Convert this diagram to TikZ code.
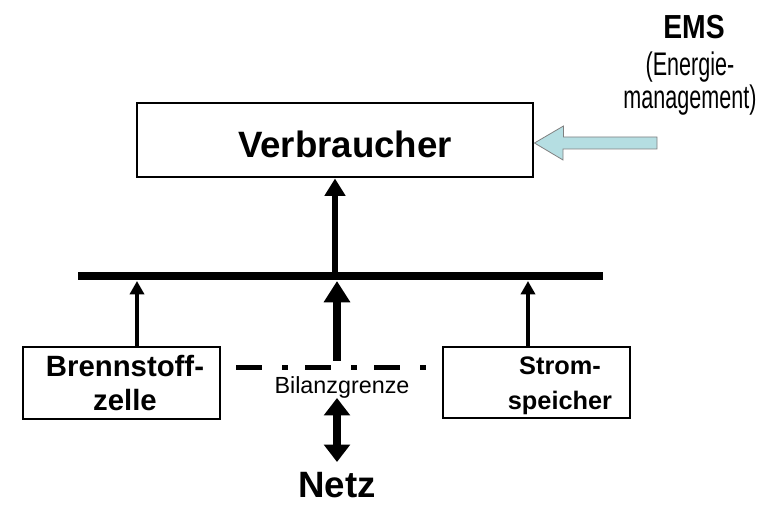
\documentclass[tikz,border=0pt]{standalone}
\usepackage{fontspec}
\setmainfont{Liberation Sans}
\usetikzlibrary{arrows.meta,calc}
\definecolor{emsfill}{HTML}{B5DEE2}
\definecolor{emsline}{HTML}{808080}
\newcommand{\fs}[2]{\fontsize{#1pt}{#2pt}\selectfont}
\newcommand{\narrow}[2][0.66]{\scalebox{#1}[1]{#2}}
\tikzset{
  x=0.75pt, y=-0.75pt,
  unitbox/.style={draw, line width=2.2pt, inner sep=0pt},
  caption/.style={inner sep=0pt, align=center},
  feed/.style={line width=3pt, -{Triangle[width=10.5pt,length=10pt]}},
  mainfeed/.style={line width=4.5pt, -{Triangle[width=15pt,length=13pt]}},
  gridfeed/.style={line width=6pt, -{Triangle[width=19pt,length=16pt]}},
  gridlink/.style={line width=6pt, {Triangle[width=19pt,length=13pt]}-{Triangle[width=19pt,length=13pt]}},
  boundary/.style={line width=3.75pt, dash pattern=on 19.5pt off 15pt on 4.5pt off 12.75pt},
}
\begin{document}
\begin{tikzpicture}
\useasboundingbox (0,0) rectangle (765,506);

% consumer
\node[unitbox, minimum width=396*0.75pt, minimum height=74*0.75pt] (verb) at (335,140) {};
\node[caption, font=\fs{27.5}{33}\bfseries, anchor=base] (verbtxt) at (345,158) {Verbraucher};

% bus bar
\coordinate (busL) at (78,276.5);
\coordinate (busR) at (603,276.5);
\draw[line width=6pt] (busL) -- (busR);

% sources and storage (anchor base = baseline of the last line)
\node[unitbox, minimum width=197*0.75pt, minimum height=72*0.75pt] (fc) at (121.5,383) {};
\node[caption, font=\fs{22}{26}\bfseries, anchor=base] (fctxt) at (125,411) {Brennstoff-\\zelle};
\node[unitbox, minimum width=187*0.75pt, minimum height=71*0.75pt] (st) at (536.5,382.5) {};
\node[caption, font=\fs{19}{26}\bfseries, anchor=base] (sttxt) at (560,409) {Strom-\\speicher};

% feeds into the bus
\coordinate (fcUp) at (137,281);
\coordinate (stUp) at (528,281);
\coordinate (verbFoot) at (335,272);
\draw[feed] (fc.north -| fcUp) -- (fcUp);
\draw[feed] (st.north -| stUp) -- (stUp);
\draw[mainfeed] (verbFoot) -- (verb.south -| verbFoot);

% balance boundary and grid
\coordinate (bndL) at (236,368);
\coordinate (bndR) at (427,368);
\draw[boundary] (bndL) -- (bndR);
\node[caption, font=\fs{17.5}{20}] (bil) at (342,387) {Bilanzgrenze};
\coordinate (gridTop) at (337,281);
\coordinate (gridFoot) at (337,361);
\draw[gridfeed] (gridFoot) -- (gridTop);
\node[caption, font=\fs{27.5}{30}\bfseries, anchor=base, text depth=0pt] (netz) at (337,497) {Netz};
\coordinate (linkTop) at (337,398);
\coordinate (linkBot) at (337,462);
\draw[gridlink] (linkTop) -- (linkBot);

% energy management
\node[caption, font=\fs{25}{26}\bfseries, anchor=base] (ems) at (694,39) {\narrow[0.85]{EMS}};
\node[caption, font=\fs{24.5}{24}, anchor=base] (emsline1) at (690,76) {\narrow{(Energie-}};
\node[caption, font=\fs{24.5}{24}, anchor=base] (emsline2) at (690,109) {\narrow{management)}};
\coordinate (emsTail) at (657,143);
\draw[fill=emsfill, draw=emsline, line width=0.6pt]
  (verb.east |- emsTail) -- ++(29,-17) -- ++(0,11) -- ($(emsTail)+(0,-6)$)
  -- ($(emsTail)+(0,6)$) -- ++(-94,0) -- ++(0,11) -- cycle;
\end{tikzpicture}
\end{document}
